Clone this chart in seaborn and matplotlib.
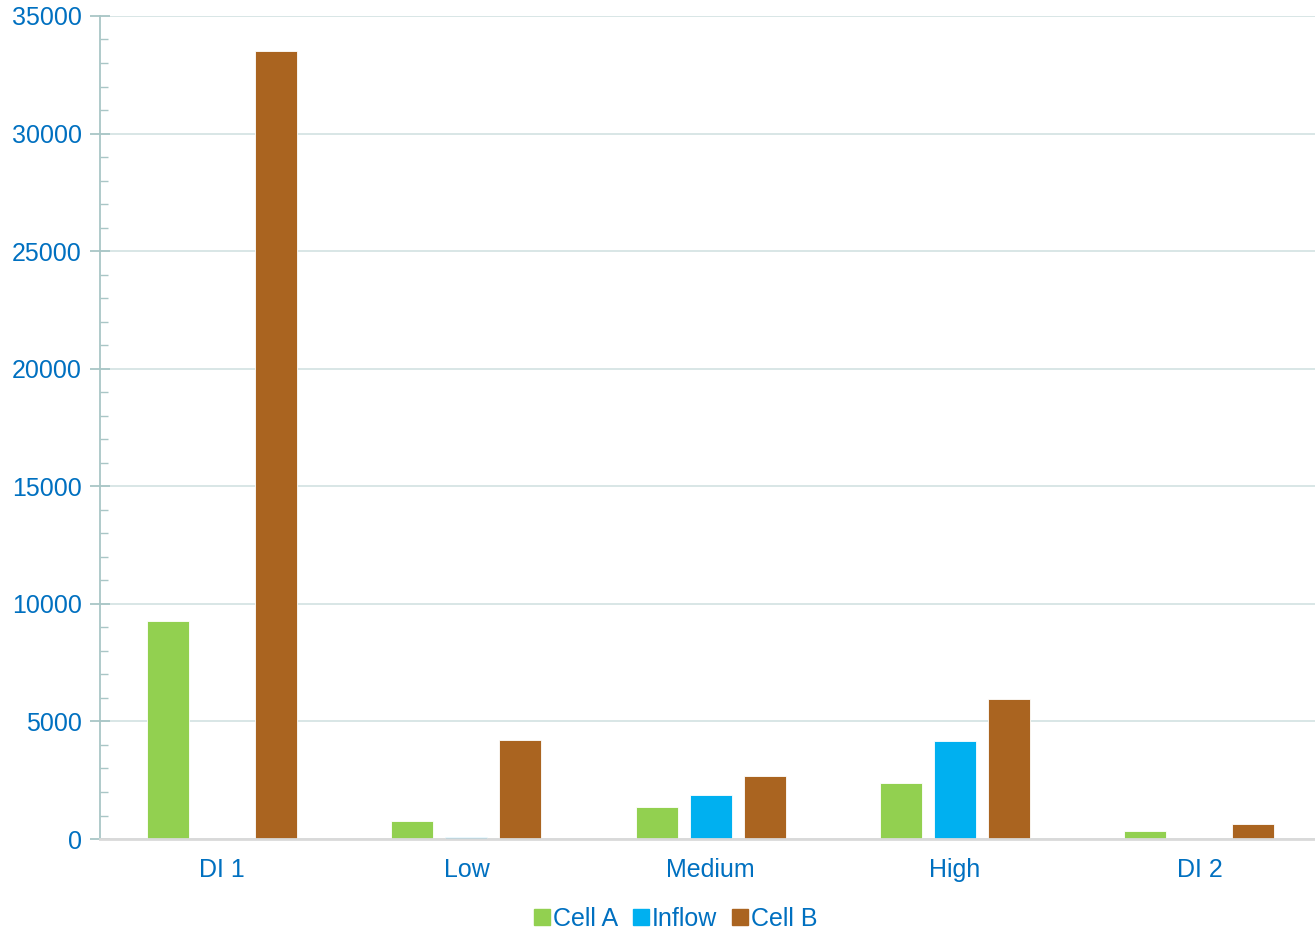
import numpy as np
import pandas as pd
import seaborn as sns
import matplotlib.pyplot as plt
from matplotlib.lines import Line2D
from matplotlib.ticker import MultipleLocator

categories = ["DI 1", "Low", "Medium", "High", "DI 2"]
cell_a = [9270, 770, 1360, 2380, 340]
inflow = [0, 80, 1870, 4170, 0]
cell_b = [33500, 4210, 2680, 5950, 640]
series = ["Cell A", "Inflow", "Cell B"]
colors = ["#92D050", "#00B0F0", "#AA6420"]

df = pd.DataFrame({
    "category": categories * 3,
    "series": [s for s in series for _ in categories],
    "value": cell_a + inflow + cell_b,
})

sns.set_theme(style="white")
plt.rcParams["font.family"] = ["Liberation Sans", "DejaVu Sans"]
text_col = "#0070C0"

fig = plt.figure(figsize=(13.15, 9.33), dpi=100)
ax = fig.add_axes([0.076, 0.1007, 0.929, 0.8822])

sns.barplot(data=df, x="category", y="value", hue="series", order=categories,
            hue_order=series, palette=colors, saturation=1, width=0.663, gap=0.22,
            edgecolor="white", linewidth=0.6, ax=ax, legend=False)

ax.set_xlim(-0.5, 4.5)
ax.set_ylim(0, 35000)
ax.yaxis.set_major_locator(MultipleLocator(5000))
ax.yaxis.set_minor_locator(MultipleLocator(1000))
ax.grid(axis="y", color="#D6E4E4", linewidth=1.3)
ax.set_axisbelow(True)
ax.set_xlabel("")
ax.set_ylabel("")

for s in ["top", "right"]:
    ax.spines[s].set_visible(False)
ax.spines["left"].set_color("#A9C6C6")
ax.spines["left"].set_linewidth(1.3)
ax.spines["bottom"].set_color("#D9D9D9")
ax.spines["bottom"].set_linewidth(2)

ax.tick_params(axis="y", which="major", direction="inout", length=14, width=1.3,
               color="#A9C6C6", left=True, labelsize=18, labelcolor=text_col, pad=6)
ax.tick_params(axis="y", which="minor", direction="in", length=6, width=1,
               color="#A9C6C6", left=True)
ax.tick_params(axis="x", length=0, labelsize=18, labelcolor=text_col, pad=14)

handles = [Line2D([], [], marker="s", linestyle="none", markersize=11,
                  markerfacecolor=c, markeredgecolor=c) for c in colors]
fig.legend(handles, series, loc="lower center", bbox_to_anchor=(0.514, -0.022),
           ncol=3, frameon=False, fontsize=18, labelcolor=text_col,
           handlelength=0.6, handletextpad=0.15, columnspacing=0.6)

fig.savefig("out.png", dpi=100)
